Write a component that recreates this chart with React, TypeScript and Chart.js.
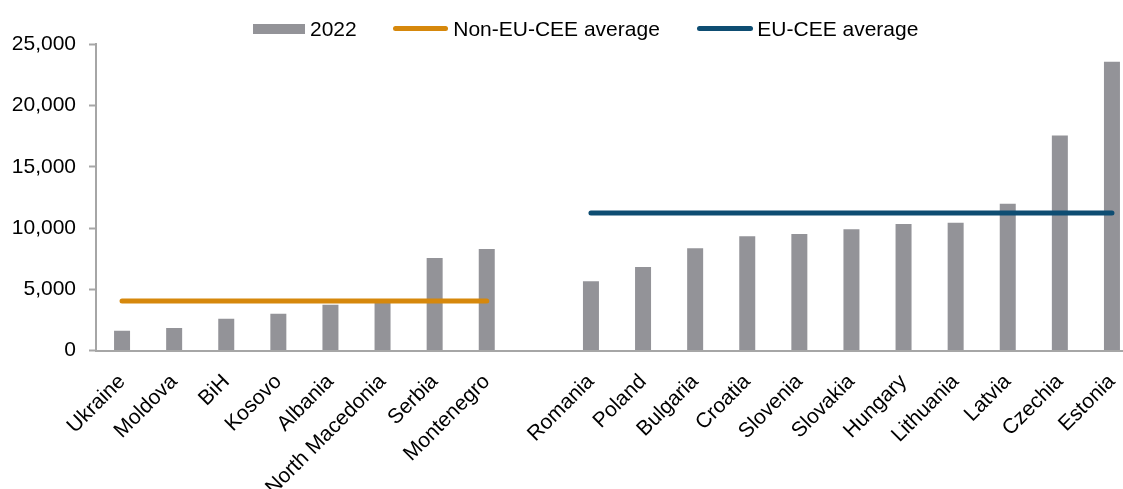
import { useEffect, useRef } from "react";
import { Chart, registerables } from "chart.js";

Chart.register(...registerables);

const categories = [
  "Ukraine",
  "Moldova",
  "BiH",
  "Kosovo",
  "Albania",
  "North Macedonia",
  "Serbia",
  "Montenegro",
  "",
  "Romania",
  "Poland",
  "Bulgaria",
  "Croatia",
  "Slovenia",
  "Slovakia",
  "Hungary",
  "Lithuania",
  "Latvia",
  "Czechia",
  "Estonia",
];

const values2022 = [
  1620, 1840, 2600, 3000, 3740, 4000, 7560, 8290, null,
  5650, 6820, 8350, 9330, 9520, 9900, 10330, 10440, 11990, 17550, 23570,
];

const nonEuCeeAverage = [
  4040, 4040, 4040, 4040, 4040, 4040, 4040, 4040, null,
  null, null, null, null, null, null, null, null, null, null, null,
];

const euCeeAverage = [
  null, null, null, null, null, null, null, null, null,
  11230, 11230, 11230, 11230, 11230, 11230, 11230, 11230, 11230, 11230, 11230,
];

const yTicks = [0, 5000, 10000, 15000, 20000, 25000];

const seriesNames = ["2022", "Non-EU-CEE average", "EU-CEE average"];

const GRAY = "#939398";
const ORANGE = "#D6880C";
const BLUE = "#0E4D72";
const AXIS = "#A6A6A6";
const FONT = '"Liberation Sans", Arial, sans-serif';

export default function App() {
  const canvasRef = useRef<HTMLCanvasElement | null>(null);

  useEffect(() => {
    if (!canvasRef.current) return;
    const chart = new Chart(canvasRef.current, {
      type: "bar",
      data: {
        labels: categories,
        datasets: [
          {
            type: "line",
            label: seriesNames[1],
            data: nonEuCeeAverage,
            borderColor: ORANGE,
            backgroundColor: ORANGE,
            borderWidth: 5,
            borderCapStyle: "round",
            pointRadius: 0,
            pointHoverRadius: 0,
            spanGaps: false,
            order: 1,
          },
          {
            type: "line",
            label: seriesNames[2],
            data: euCeeAverage,
            borderColor: BLUE,
            backgroundColor: BLUE,
            borderWidth: 5,
            borderCapStyle: "round",
            pointRadius: 0,
            pointHoverRadius: 0,
            spanGaps: false,
            order: 2,
          },
          {
            type: "bar",
            label: seriesNames[0],
            data: values2022,
            backgroundColor: GRAY,
            borderWidth: 0,
            barPercentage: 0.307,
            categoryPercentage: 1,
            order: 3,
          },
        ],
      } as any,
      options: {
        animation: false,
        responsive: false,
        devicePixelRatio: 1,
        layout: { padding: { top: 44.3, left: 0, right: 0, bottom: 0 } },
        plugins: {
          legend: { display: false },
          tooltip: { enabled: false },
        },
        scales: {
          x: {
            offset: true,
            grid: { display: false, drawTicks: false },
            border: { display: true, color: AXIS, width: 2 },
            ticks: {
              autoSkip: false,
              maxRotation: 45,
              minRotation: 45,
              padding: 19,
              color: "#000",
              font: { family: FONT, size: 21 },
            },
            afterFit: (scale: any) => {
              scale.height = 138.5;
              scale.paddingLeft = 0;
              scale.paddingRight = 0;
            },
          },
          y: {
            min: 0,
            max: 25000,
            afterBuildTicks: (scale: any) => {
              scale.ticks = yTicks.map((v) => ({ value: v }));
            },
            grid: {
              display: true,
              drawOnChartArea: false,
              drawTicks: true,
              tickLength: 7,
              tickColor: AXIS,
              tickWidth: 2,
            },
            border: { display: true, color: AXIS, width: 2 },
            ticks: {
              padding: 13,
              color: "#000",
              font: { family: FONT, size: 21 },
              callback: (v: any) => Number(v).toLocaleString("en-US"),
            },
            afterFit: (scale: any) => {
              scale.width = 96;
            },
          },
        },
      } as any,
    });
    return () => chart.destroy();
  }, []);

  const textStyle: React.CSSProperties = {
    fontFamily: FONT,
    fontSize: 21,
    color: "#000",
    lineHeight: "24px",
    whiteSpace: "nowrap",
  };

  return (
    <div
      style={{
        position: "absolute",
        left: 0,
        top: 0,
        width: 1123,
        height: 489,
        overflow: "hidden",
        background: "#fff",
      }}
    >
      <canvas
        ref={canvasRef}
        width={1138}
        height={489}
        style={{ display: "block", width: 1138, height: 489 }}
      />
      <div
        style={{
          position: "absolute",
          left: 253,
          top: 16.5,
          height: 24,
          display: "flex",
          alignItems: "center",
        }}
      >
        <div style={{ width: 52, height: 10, background: GRAY, marginRight: 5 }} />
        <span style={textStyle}>{seriesNames[0]}</span>
        <div
          style={{
            width: 55,
            height: 5,
            borderRadius: 2.5,
            background: ORANGE,
            marginLeft: 36.5,
            marginRight: 5,
          }}
        />
        <span style={textStyle}>{seriesNames[1]}</span>
        <div
          style={{
            width: 56,
            height: 5,
            borderRadius: 2.5,
            background: BLUE,
            marginLeft: 37.5,
            marginRight: 4,
          }}
        />
        <span style={textStyle}>{seriesNames[2]}</span>
      </div>
    </div>
  );
}
